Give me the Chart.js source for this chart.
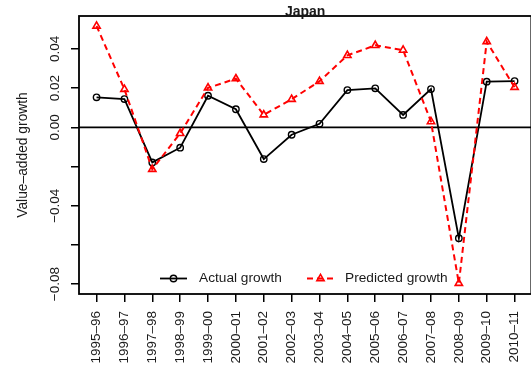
<!DOCTYPE html>
<html>
<head>
<meta charset="utf-8">
<script src="https://cdn.jsdelivr.net/npm/chart.js@4/dist/chart.umd.min.js"></script>
<style>
  html, body { margin: 0; padding: 0; overflow: hidden; background: #fff; }
  #c { display: block; }
</style>
</head>
<body>
<canvas id="c" width="540" height="371"></canvas>
<script>
// Fiscal-year periods on the x axis
const periods = ['1995–96', '1996–97', '1997–98', '1998–99', '1999–00', '2000–01',
  '2001–02', '2002–03', '2003–04', '2004–05', '2005–06', '2006–07',
  '2007–08', '2008–09', '2009–10', '2010–11'];

// Value-added growth, Japan
const actualGrowth = [0.0153, 0.0144, -0.0179, -0.0104, 0.0161, 0.0092,
  -0.0162, -0.0038, 0.0018, 0.0190, 0.0199, 0.0063,
  0.0195, -0.0566, 0.0233, 0.0236];
const predictedGrowth = [0.0517, 0.0194, -0.0214, -0.0031, 0.0201, 0.0248,
  0.0064, 0.0143, 0.0235, 0.0367, 0.0418, 0.0394,
  0.0029, -0.0796, 0.0437, 0.0204];

// y-axis tick marks, and the subset that carries a printed label
const yTicks = [-0.08, -0.06, -0.04, -0.02, 0.00, 0.02, 0.04];
const yTickLabels = [0.04, 0.02, 0.00, -0.04, -0.08];

const FONT = '"Liberation Sans", Arial, Helvetica, sans-serif';
const TEXT = '#1a1a1a';

const toPoints = arr => arr.map((v, i) => ({ x: i, y: v }));
const fmt = v => (v < 0 ? '−' : '') + Math.abs(v).toFixed(2);

// Frame, zero reference line, rotated y labels, title and legend
const decorations = {
  id: 'decorations',
  beforeDatasetsDraw(chart) {
    const { ctx, chartArea: a, scales: { y } } = chart;
    const y0 = y.getPixelForValue(0);
    ctx.save();
    ctx.strokeStyle = '#000';
    ctx.lineWidth = 1.7;
    ctx.beginPath();
    ctx.moveTo(a.left, y0);
    ctx.lineTo(a.right, y0);
    ctx.stroke();
    ctx.restore();
  },
  afterDraw(chart) {
    const { ctx, chartArea: a, scales: { y } } = chart;
    ctx.save();

    // plot frame
    ctx.strokeStyle = '#000';
    ctx.lineWidth = 1.8;
    ctx.strokeRect(a.left, a.top, a.right - a.left, a.bottom - a.top);

    // y tick labels, parallel to the axis
    ctx.fillStyle = TEXT;
    ctx.font = '13.5px ' + FONT;
    ctx.textAlign = 'center';
    ctx.textBaseline = 'middle';
    yTickLabels.forEach(v => {
      const py = y.getPixelForValue(v);
      ctx.save();
      ctx.translate(55, py);
      ctx.rotate(-Math.PI / 2);
      ctx.fillText(fmt(v), 0, 0);
      ctx.restore();
    });

    // y axis title
    ctx.save();
    ctx.translate(23, (a.top + a.bottom) / 2);
    ctx.rotate(-Math.PI / 2);
    ctx.font = '13.8px ' + FONT;
    ctx.fillText('Value–added growth', 0, 0);
    ctx.restore();

    // chart title
    ctx.font = 'bold 14px ' + FONT;
    ctx.textBaseline = 'alphabetic';
    ctx.fillText('Japan', (a.left + a.right) / 2, 15.5);

    // legend
    const ly = 278.5;
    ctx.textAlign = 'left';
    ctx.textBaseline = 'middle';
    ctx.font = '13.7px ' + FONT;

    ctx.strokeStyle = '#000';
    ctx.lineWidth = 1.8;
    ctx.beginPath();
    ctx.moveTo(160, ly); ctx.lineTo(187, ly);
    ctx.stroke();
    ctx.lineWidth = 1.4;
    ctx.fillStyle = '#fff';
    ctx.beginPath();
    ctx.arc(173.5, ly, 3.2, 0, Math.PI * 2);
    ctx.stroke();
    ctx.fillStyle = TEXT;
    ctx.fillText('Actual growth', 199, ly);

    ctx.strokeStyle = '#ff0000';
    ctx.lineWidth = 2;
    ctx.setLineDash([6, 4]);
    ctx.beginPath();
    ctx.moveTo(307, ly); ctx.lineTo(334, ly);
    ctx.stroke();
    ctx.setLineDash([]);
    ctx.lineWidth = 1.6;
    const r = 4.2;
    ctx.beginPath();
    for (let k = 0; k < 3; k++) {
      const ang = k * 2 * Math.PI / 3;
      const px = 320.5 + Math.sin(ang) * r, py = ly - Math.cos(ang) * r;
      if (k === 0) ctx.moveTo(px, py); else ctx.lineTo(px, py);
    }
    ctx.closePath();
    ctx.stroke();
    ctx.fillStyle = TEXT;
    ctx.fillText('Predicted growth', 345, ly);

    ctx.restore();
  }
};

const tickGrid = {
  drawOnChartArea: false,
  drawTicks: true,
  tickLength: 8,
  color: '#000',
  lineWidth: 1.5
};

new Chart(document.getElementById('c'), {
  type: 'scatter',
  data: {
    datasets: [
      {
        label: 'Predicted growth',
        data: toPoints(predictedGrowth),
        showLine: true,
        borderColor: '#ff0000',
        borderWidth: 2,
        borderDash: [6, 4],
        tension: 0,
        pointStyle: 'triangle',
        pointRadius: 4.2,
        pointBorderWidth: 1.6,
        pointBorderColor: '#ff0000',
        pointBackgroundColor: 'rgba(0,0,0,0)'
      },
      {
        label: 'Actual growth',
        data: toPoints(actualGrowth),
        showLine: true,
        borderColor: '#000',
        borderWidth: 1.8,
        tension: 0,
        pointStyle: 'circle',
        pointRadius: 3.2,
        pointBorderWidth: 1.4,
        pointBorderColor: '#000',
        pointBackgroundColor: 'rgba(0,0,0,0)'
      }
    ]
  },
  options: {
    responsive: false,
    animation: false,
    devicePixelRatio: 1,
    layout: { padding: { top: 16, right: 5.4, left: 0, bottom: 0 } },
    plugins: {
      legend: { display: false },
      tooltip: { enabled: false }
    },
    scales: {
      x: {
        type: 'linear',
        min: -0.63,
        max: 15.6,
        afterBuildTicks: s => { s.ticks = periods.map((_, i) => ({ value: i })); },
        afterFit: s => { s.height = 77; },
        border: { display: false },
        grid: tickGrid,
        ticks: {
          autoSkip: false,
          minRotation: 90,
          maxRotation: 90,
          padding: 9,
          color: TEXT,
          font: { family: FONT, size: 13.5 },
          callback: v => periods[v]
        }
      },
      y: {
        type: 'linear',
        min: -0.08505,
        max: 0.05679,
        afterBuildTicks: s => { s.ticks = yTicks.map(v => ({ value: v })); },
        afterFit: s => { s.width = 79; },
        border: { display: false },
        grid: tickGrid,
        ticks: { display: false }
      }
    }
  },
  plugins: [decorations]
});
</script>
</body>
</html>
